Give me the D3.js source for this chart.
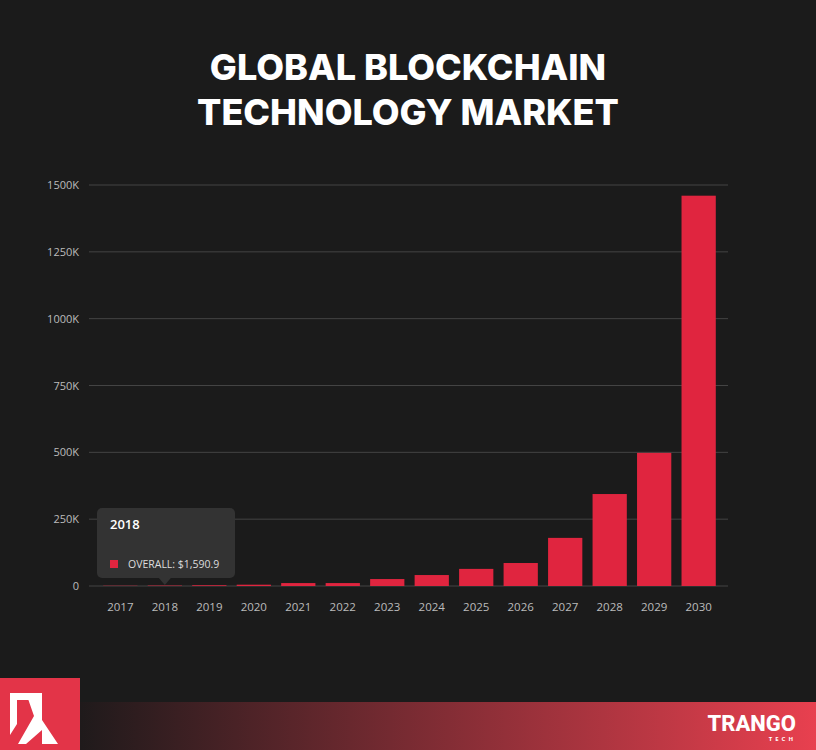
<!DOCTYPE html>
<html><head><meta charset="utf-8">
<script src="https://d3js.org/d3.v7.min.js"></script>
<style>body{margin:0;background:#1b1b1b;font-family:'Open Sans',sans-serif}</style>
</head><body><div class="vis"></div>
<script>
var years = ['2017','2018','2019','2020','2021','2022','2023','2024','2025','2026','2027','2028','2029','2030'];
var values = [1.0, 1.5909, 2.8, 4.9, 11, 11, 26, 41, 64, 86, 180, 344, 498, 1460];
var ticks = [0, 250, 500, 750, 1000, 1250, 1500];

var W = 816, H = 750;
var svg = d3.select('.vis').append('svg').attr('width', W).attr('height', H);
svg.append('rect').attr('width', W).attr('height', H).attr('fill', '#1b1b1b');

// title
svg.append('text').attr('x', W/2).attr('y', 80).attr('text-anchor', 'middle')
  .attr('fill', 'white').attr('font-size', 36).attr('font-weight', 800).attr('font-family', 'Inter').text('GLOBAL BLOCKCHAIN');
svg.append('text').attr('x', W/2).attr('y', 125).attr('text-anchor', 'middle')
  .attr('fill', 'white').attr('font-size', 36).attr('font-weight', 800).attr('font-family', 'Inter').text('TECHNOLOGY MARKET');

var x = d3.scaleBand().domain(years).range([101, 718]).paddingInner(0.23).paddingOuter(0.05);
var y = d3.scaleLinear().domain([0, 1500]).range([586, 185]);

svg.selectAll('.grid').data(ticks).enter().append('line')
  .attr('x1', 89).attr('x2', 728).attr('y1', d => y(d)).attr('y2', d => y(d))
  .attr('stroke', '#444').attr('stroke-width', 1);
svg.selectAll('.yl').data(ticks).enter().append('text')
  .attr('x', 79).attr('y', d => y(d) + 4).attr('text-anchor', 'end')
  .attr('fill', '#bbb').attr('font-size', 11).text(d => d === 0 ? '0' : d + 'K');

svg.selectAll('.bar').data(values).enter().append('rect')
  .attr('x', (d, i) => x(years[i])).attr('width', x.bandwidth())
  .attr('y', d => y(d)).attr('height', d => y(0) - y(d)).attr('fill', '#e0253f');

svg.selectAll('.xl').data(years).enter().append('text')
  .attr('x', d => x(d) + x.bandwidth()/2).attr('y', 611).attr('text-anchor', 'middle')
  .attr('fill', '#bbb').attr('font-size', 11.5).text(d => d);

// tooltip
var tx = x('2018') + x.bandwidth()/2;
var tip = svg.append('g');
tip.append('rect').attr('x', 97).attr('y', 508).attr('width', 138).attr('height', 70).attr('rx', 5).attr('fill', '#333');
tip.append('path').attr('d', `M${tx-6},578L${tx},585L${tx+6},578Z`).attr('fill', '#333');
tip.append('text').attr('x', 110).attr('y', 529).attr('fill', 'white').attr('font-size', 13).attr('font-weight', 600).text('2018');
tip.append('rect').attr('x', 110).attr('y', 560).attr('width', 8).attr('height', 8).attr('fill', '#e0253f');
tip.append('text').attr('x', 128).attr('y', 568).attr('fill', '#ddd').attr('font-size', 10.5)
  .text('OVERALL: $' + d3.format(',.1f')(values[1] * 1000));

// footer
var defs = svg.append('defs');
var g = defs.append('linearGradient').attr('id', 'fg');
g.append('stop').attr('offset', '0%').attr('stop-color', '#1f1a1b');
g.append('stop').attr('offset', '100%').attr('stop-color', '#e8404f');
svg.append('rect').attr('x', 80).attr('y', 702).attr('width', W-80).attr('height', 48).attr('fill', 'url(#fg)');
svg.append('rect').attr('x', 0).attr('y', 678).attr('width', 80).attr('height', 72).attr('fill', '#e33448');
svg.append('path').attr('d', 'M10,693L42,693L42,700L17,700L17,724L10,735Z').attr('fill', 'white');
svg.append('path').attr('d', 'M26,693L42,693L42,720L58,744L42,744L42,730L26,744L18,744L34,716Z').attr('fill', 'white');
svg.append('text').attr('x', 796).attr('y', 731).attr('text-anchor', 'end').attr('fill', 'white')
  .attr('font-size', 22).attr('font-weight', 800).attr('font-family', 'Roboto').text('TRANGO');
svg.append('text').attr('x', 796).attr('y', 741).attr('text-anchor', 'end').attr('fill', 'white')
  .attr('font-size', 6).attr('letter-spacing', 3).attr('font-weight', 700).text('TECH');
</script></body></html>
